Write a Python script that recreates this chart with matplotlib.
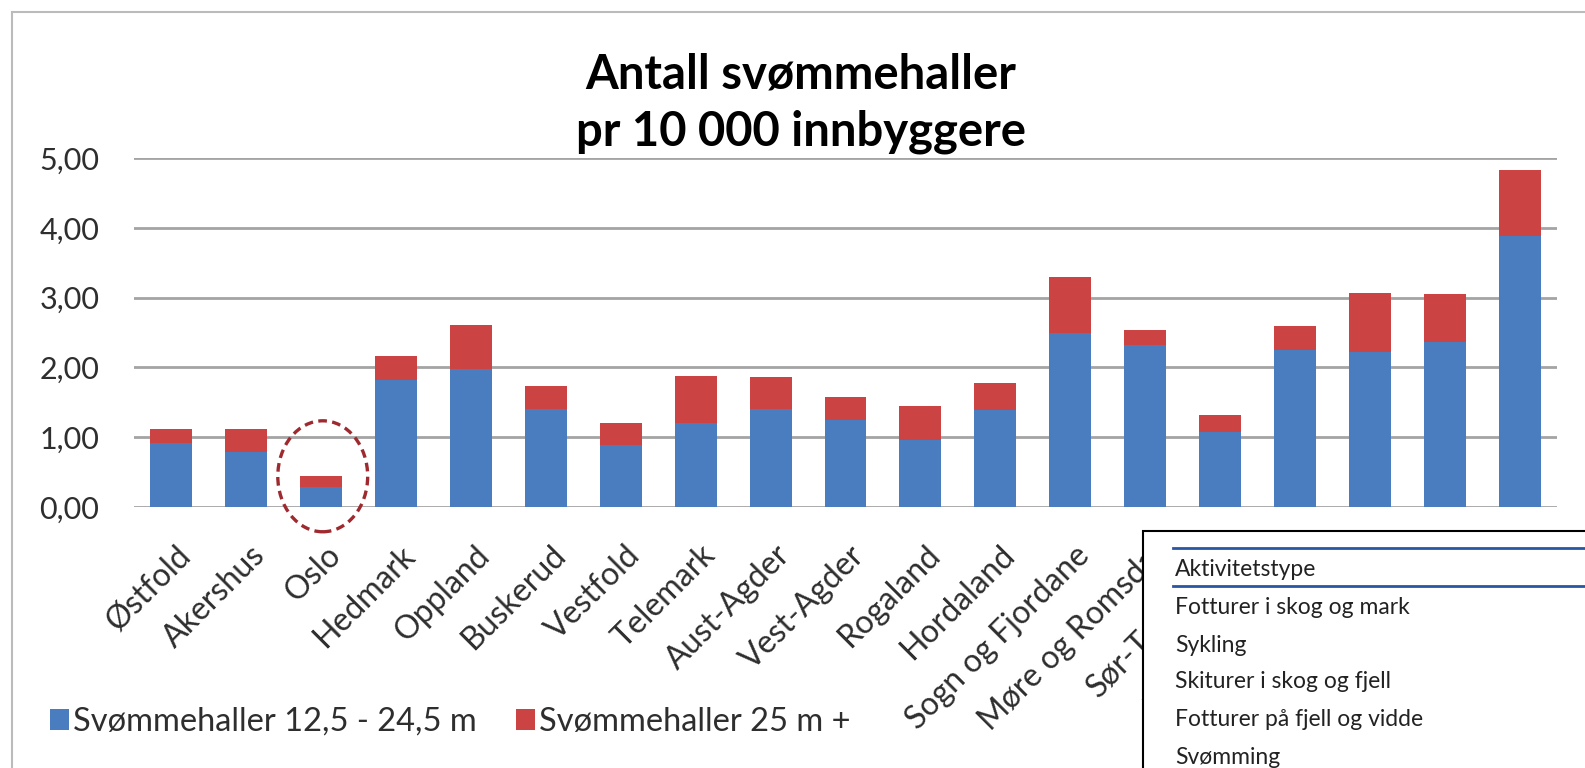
import matplotlib
matplotlib.use("Agg")
import matplotlib.pyplot as plt
from matplotlib.patches import Rectangle, Ellipse
from matplotlib.lines import Line2D
from matplotlib.transforms import ScaledTranslation, blended_transform_factory

plt.rcParams['font.family'] = ['Lato', 'DejaVu Sans']

counties = ["Østfold", "Akershus", "Oslo", "Hedmark", "Oppland", "Buskerud", "Vestfold",
            "Telemark", "Aust-Agder", "Vest-Agder", "Rogaland", "Hordaland",
            "Sogn og Fjordane", "Møre og Romsdal", "Sør-Trøndelag", "Nord-Trøndelag",
            "Nordland", "Troms", "Finnmark"]
small_halls = [0.91, 0.79, 0.29, 1.82, 1.97, 1.41, 0.89, 1.21, 1.41, 1.24, 0.96, 1.39,
               2.49, 2.32, 1.08, 2.25, 2.22, 2.37, 3.88]
totals = [1.12, 1.12, 0.44, 2.16, 2.61, 1.74, 1.20, 1.87, 1.86, 1.58, 1.44, 1.78,
          3.30, 2.54, 1.32, 2.59, 3.07, 3.05, 4.83]
large_halls = [round(t - s, 2) for t, s in zip(totals, small_halls)]
series_names = ["Svømmehaller 12,5 - 24,5 m", "Svømmehaller 25 m +"]
yticks = [0, 1, 2, 3, 4, 5]
title_lines = ["Antall svømmehaller", "pr 10 000 innbyggere"]
table_header = "Aktivitetstype"
table_rows = ["Fotturer i skog og mark", "Sykling", "Skiturer i skog og fjell",
              "Fotturer på fjell og vidde", "Svømming"]

W, H = 1585, 768
fig = plt.figure(figsize=(W / 100, H / 100), dpi=100)
fig.patch.set_facecolor("white")

def fx(px):
    return px / W

def fy(py):
    return 1 - py / H

ax_l, ax_r, ax_t, ax_b = 134, 1557, 158, 507
ax = fig.add_axes([fx(ax_l), fy(ax_b), fx(ax_r - ax_l), (ax_b - ax_t) / H])

blue = "#4A7DC0"
red = "#CB4343"
text_col = "#2E2E2E"
x = list(range(len(counties)))
b1 = ax.bar(x, small_halls, width=0.56, color=blue, zorder=3, label=series_names[0])
b2 = ax.bar(x, large_halls, width=0.56, bottom=small_halls, color=red, zorder=3,
            label=series_names[1])

ax.set_xlim(-0.5, len(counties) - 0.5)
ax.set_ylim(0, 5)
ax.set_yticks(yticks)
ax.set_yticklabels([f"{v:.2f}".replace(".", ",") for v in yticks], fontsize=22, color=text_col)
ax.yaxis.grid(True, color="#A4A4A4", linewidth=2.0, zorder=0)
ax.set_axisbelow(True)
for s in ax.spines.values():
    s.set_visible(False)
ax.tick_params(axis="y", length=0, pad=25)
ax.set_xticks([])

# rotated category labels
lab_tr = blended_transform_factory(ax.transData, ax.transAxes) + \
    ScaledTranslation(4 / 100, -33 / 100, fig.dpi_scale_trans)
for xi, name in zip(x, counties):
    ax.text(xi, 0, name, transform=lab_tr, rotation=45, ha="right", va="top",
            rotation_mode="anchor", fontsize=23, color=text_col, clip_on=False)

# Oslo highlight
oslo = counties.index("Oslo")
ell = Ellipse((oslo + 0.02, 0.44), width=1.2, height=1.59, fill=False, edgecolor="#9E2A2F",
              linestyle=(0, (2.6, 1.6)), linewidth=2.4, clip_on=False, zorder=5)
ax.add_patch(ell)

for line, base in zip(title_lines, (88, 145)):
    fig.text(fx(801), fy(base), line, ha="center", va="baseline", fontsize=34,
             fontweight="bold", color="black")

leg = fig.legend(handles=[b1, b2], labels=series_names, loc="center left",
                 bbox_to_anchor=(fx(50), fy(722)), ncol=2, frameon=False, fontsize=23.5,
                 handlelength=0.58, handleheight=0.58, handletextpad=0.12, columnspacing=1.2,
                 labelcolor=text_col, borderaxespad=0, borderpad=0)

# outer chart border
fig.add_artist(Line2D([fx(12), fx(12)], [fy(12), fy(H + 5)], color="#BBBBBB", lw=1.5))
fig.add_artist(Line2D([fx(12), fx(W + 5)], [fy(12), fy(12)], color="#BBBBBB", lw=1.5))

# overlaid table
fig.add_artist(Rectangle((fx(1143), fy(H + 10)), fx(W), (H + 10 - 531) / H,
                         facecolor="white", edgecolor="black", linewidth=1.5, zorder=20))
for yy in (548, 586):
    fig.add_artist(Line2D([fx(1173), fx(W + 5)], [fy(yy), fy(yy)], color="#2A55A2",
                          lw=2, zorder=21))
fig.text(fx(1175), fy(570), table_header, ha="left", va="center", fontsize=16.5,
         color="#222222", zorder=22)
row_y = [607, 645, 682, 719, 757]
for txt, yy in zip(table_rows, row_y):
    fig.text(fx(1175), fy(yy), txt, ha="left", va="center", fontsize=16.5,
             color="#222222", zorder=22)

fig.savefig("out.png", dpi=100)
